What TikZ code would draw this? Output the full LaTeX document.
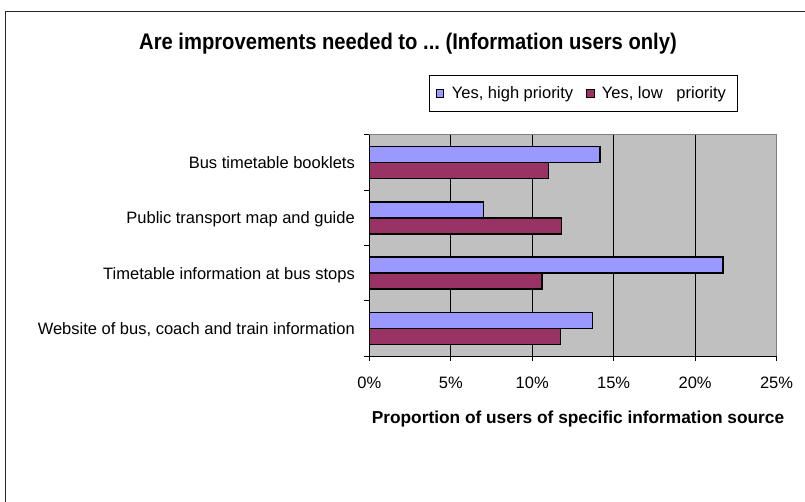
\documentclass[tikz,border=0pt]{standalone}
\usepackage{fontspec}
\setmainfont{Liberation Sans}
\frenchspacing
\definecolor{hiblue}{HTML}{9999FF}
\definecolor{lowred}{HTML}{993366}
\definecolor{plotgray}{HTML}{C0C0C0}
\definecolor{bordergray}{HTML}{808080}
\tikzset{
  frameline/.style={draw=black!85, line width=1pt},
  gridline/.style={draw=black, line width=0.9pt},
  axisline/.style={draw=black, line width=1pt},
  hibar/.style={fill=hiblue, draw=black, line width=1.4pt},
  lowbar/.style={fill=lowred, draw=black, line width=1.4pt},
  lbl/.style={font=\fontsize{16.5}{19}\selectfont, inner sep=0pt},
  ttl/.style={font=\bfseries\fontsize{20.2}{24}\selectfont, inner sep=0pt},
  xttl/.style={font=\bfseries\fontsize{17.3}{20}\selectfont, inner sep=0pt},
  legbox/.style={draw=black, line width=1pt, fill=white},
  legsq/.style={draw=black, line width=1pt},
}
\begin{document}
\begin{tikzpicture}[x=1pt,y=-1pt]
\useasboundingbox (0,0) rectangle (805,502);
% outer chart frame (cropped at right and bottom)
\draw[frameline] (5.5,502) -- (5.5,11.5) -- (805,11.5);
% title
\node[ttl, anchor=base] (title) at (408,50) {\scalebox{1}[1.12]{Are improvements needed to ... (Information users only)}};
% legend
\draw[legbox] (429,76) rectangle (737.7,111.7);
\draw[legsq, fill=hiblue] (436,90) rectangle (443.5,97.5);
\node[lbl, anchor=base west] (leghi) at (451.7,99) {Yes, high priority};
\draw[legsq, fill=lowred] (586.7,90) rectangle (594.2,97.5);
\node[lbl, anchor=base west] (leglow) at (601.7,99) {Yes, low\ \ \ priority};
% plot area
\fill[plotgray] (369.3,135) rectangle (776.7,356);
\foreach \v in {5,10,15,20}
  \draw[gridline] ({369.3+16.29*\v},135) -- ({369.3+16.29*\v},356);
\draw[bordergray, line width=1pt] (369.3,135) -- (776.7,135) -- (776.7,356);
% bars
\foreach \i/\hv/\lv in {0/14.15/11.0, 1/7.0/11.8, 2/21.7/10.6, 3/13.7/11.75} {
  \pgfmathsetmacro{\top}{135+55.25*\i}
  \draw[hibar] (369.3,{\top+11.6}) rectangle ({369.3+16.29*\hv},{\top+27.6});
  \draw[lowbar] (369.3,{\top+27.6}) rectangle ({369.3+16.29*\lv},{\top+43.6});
}
% axes
\draw[axisline] (369.3,135) -- (369.3,356) -- (776.7,356);
\foreach \i in {0,1,2,3,4}
  \draw[axisline] (364.3,{135+55.25*\i}) -- (369.3,{135+55.25*\i});
\foreach \v in {0,5,10,15,20,25}
  \draw[axisline] ({369.3+16.29*\v},356) -- ({369.3+16.29*\v},360.5);
% category labels
\node[lbl, anchor=base east] (c1) at (355,{135+27.6+6}) {Bus timetable booklets};
\node[lbl, anchor=base east] (c2) at (355,{135+55.25+27.6+6}) {Public transport map and guide};
\node[lbl, anchor=base east] (c3) at (355,{135+110.5+27.6+6}) {Timetable information at bus stops};
\node[lbl, anchor=base east] (c4) at (355,{135+165.75+27.6+6}) {Website of bus, coach and train information};
% tick labels
\foreach \v in {0,5,10,15,20,25}
  \node[lbl, anchor=base] (t\v) at ({369.3+16.29*\v},388.5) {\v\%};
% x-axis title
\node[xttl, anchor=base] (xtitle) at (578,423) {Proportion of users of specific information source};
\end{tikzpicture}
\end{document}
